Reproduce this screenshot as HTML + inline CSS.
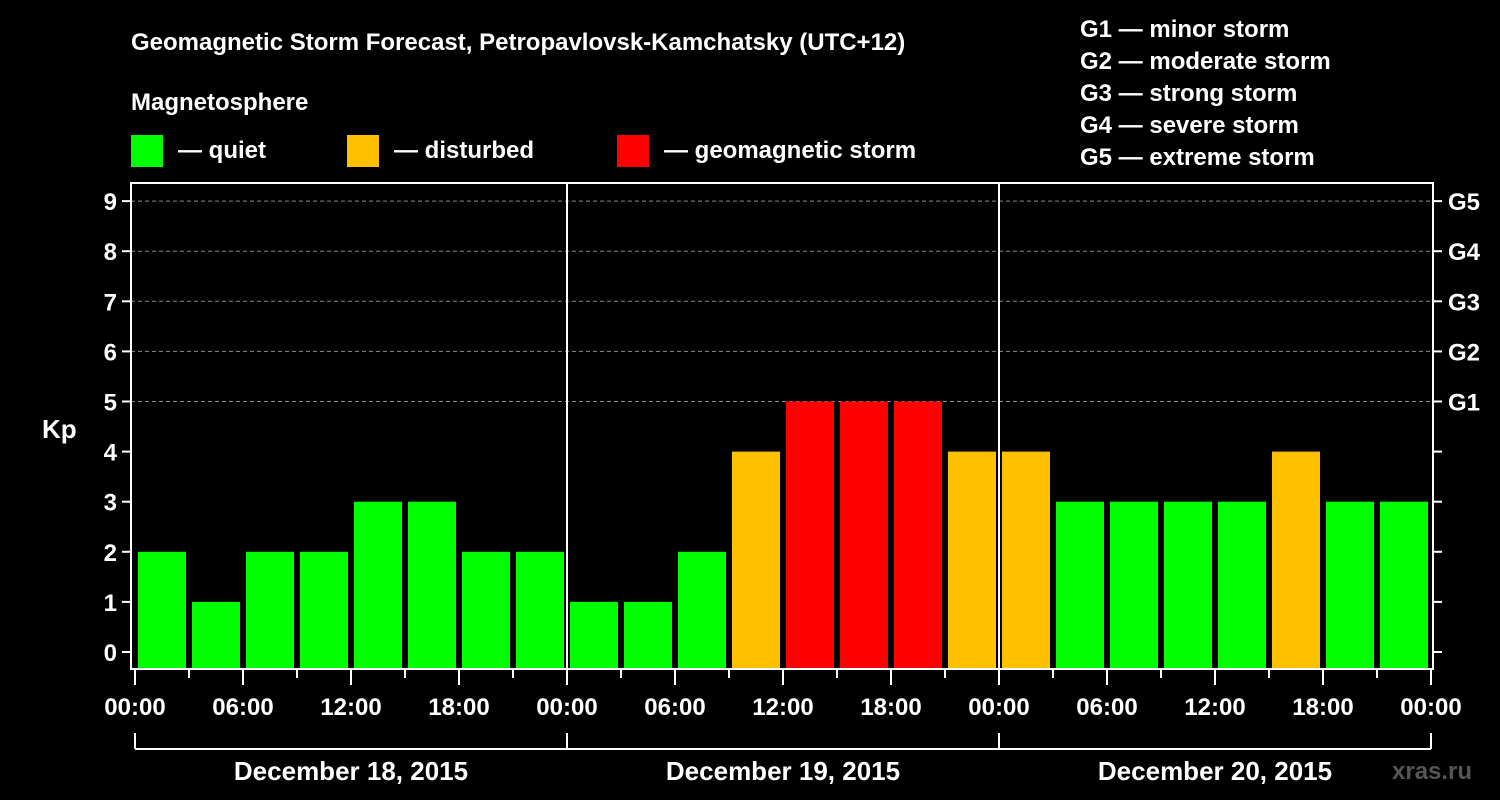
<!DOCTYPE html>
<html><head><meta charset="utf-8"><style>
body{margin:0;background:#000;}
svg{display:block;font-family:"Liberation Sans",Arial,sans-serif;font-weight:bold;}
</style></head><body>
<svg id="chart" width="1500" height="800" viewBox="0 0 1500 800">
<rect width="1500" height="800" fill="#000"/>
<text x="131" y="50" fill="#fff" font-size="24">Geomagnetic Storm Forecast, Petropavlovsk-Kamchatsky (UTC+12)</text>
<text x="131" y="110" fill="#fff" font-size="24">Magnetosphere</text>
<g><rect x="131" y="135" width="32" height="32" fill="#00ff00"/><text x="178" y="158" fill="#fff" font-size="24">— quiet</text></g>
<g><rect x="347" y="135" width="32" height="32" fill="#ffc000"/><text x="394" y="158" fill="#fff" font-size="24">— disturbed</text></g>
<g><rect x="617" y="135" width="32" height="32" fill="#ff0000"/><text x="664" y="158" fill="#fff" font-size="24">— geomagnetic storm</text></g>
<g fill="#fff" font-size="24">
<text x="1080" y="37">G1 — minor storm</text>
<text x="1080" y="69">G2 — moderate storm</text>
<text x="1080" y="101">G3 — strong storm</text>
<text x="1080" y="133">G4 — severe storm</text>
<text x="1080" y="165">G5 — extreme storm</text>
</g>
<text x="42" y="438" fill="#fff" font-size="26">Kp</text>
<text x="1392" y="779" fill="#555" font-size="24">xras.ru</text>
<g id="grid"></g><g id="bars"></g><g id="axes"></g>
</svg>
<script>
const kpValues=[2,1,2,2,3,3,2,2, 1,1,2,4,5,5,5,4, 4,3,3,3,3,4,3,3];
const dayLabels=["December 18, 2015","December 19, 2015","December 20, 2015"];
const hourLabels=["00:00","06:00","12:00","18:00"];
const yTicks=[0,1,2,3,4,5,6,7,8,9];
const gLabels=["G1","G2","G3","G4","G5"];
const gLevels=[5,6,7,8,9];
const NS="http://www.w3.org/2000/svg";
const X0=135,SLOT=54,L=131,R=1433,T=183,B=669;
const yS=v=>652-50.1*v;
const xS=i=>X0+i*SLOT;
function mk(tag,attrs,parent,text){const e=document.createElementNS(NS,tag);for(const k in attrs)e.setAttribute(k,attrs[k]);if(text!=null)e.textContent=text;parent.appendChild(e);return e;}
const grid=document.getElementById('grid'),bars=document.getElementById('bars'),axes=document.getElementById('axes');
gLevels.forEach(v=>{const l=mk('line',{x1:L,x2:R,y1:yS(v),y2:yS(v),stroke:'#888','stroke-dasharray':'4,3','stroke-width':1},grid);

});
kpValues.forEach((v,i)=>{const c=v>=5?'#ff0000':(v==4?'#ffc000':'#00ff00');
const r=mk('rect',{x:xS(i)+3,y:yS(v),width:48,height:B-yS(v),fill:c},bars);

});
const frame=mk('rect',{x:L,y:T,width:R-L,height:B-T,fill:'none',stroke:'#fff','stroke-width':2},axes);


for(let d=1;d<3;d++){const l=mk('line',{x1:xS(d*8),x2:xS(d*8),y1:T,y2:B,stroke:'#fff','stroke-width':2},axes);

}
yTicks.forEach(v=>{mk('line',{x1:L-9,x2:L,y1:yS(v),y2:yS(v),stroke:'#fff','stroke-width':2},axes);
mk('line',{x1:R,x2:R+9,y1:yS(v),y2:yS(v),stroke:'#fff','stroke-width':2},axes);
const t=mk('text',{x:L-14,y:yS(v)+9,fill:'#fff','font-size':24,'text-anchor':'end'},axes,String(v));

});
gLevels.forEach((v,i)=>{const t=mk('text',{x:R+15,y:yS(v)+9,fill:'#fff','font-size':24},axes,gLabels[i]);

});
for(let i=0;i<=24;i++){const major=i%2==0;
mk('line',{x1:xS(i),x2:xS(i),y1:B,y2:B+(major?16:9),stroke:'#fff','stroke-width':2},axes);
if(major){const t=mk('text',{x:xS(i),y:715,fill:'#fff','font-size':24,'text-anchor':'middle'},axes,hourLabels[(i/2)%4]);

}}
mk('line',{x1:xS(0),x2:xS(24),y1:749,y2:749,stroke:'#fff','stroke-width':2},axes);
for(let d=0;d<=3;d++)mk('line',{x1:xS(d*8),x2:xS(d*8),y1:733,y2:749,stroke:'#fff','stroke-width':2},axes);
dayLabels.forEach((s,d)=>{const t=mk('text',{x:xS(d*8+4),y:780,fill:'#fff','font-size':26,'text-anchor':'middle'},axes,s);

});
</script>
</body></html>
